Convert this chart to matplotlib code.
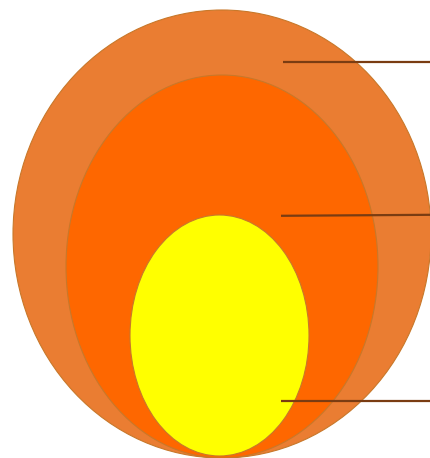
import matplotlib.pyplot as plt
from matplotlib.patches import Ellipse

# Nested layers (outer -> inner), sizes in pixel units of the canvas
layers = ["outer", "middle", "inner"]
centers_x = [222, 222, 219.5]
centers_y = [234, 266.5, 335.5]
widths = [418, 312, 179]
heights = [448, 383, 241]
colors = ["#ea7d32", "#fe6700", "#ffff00"]

# Leader lines: start x, y at left and y at right edge
line_x0 = [283, 281, 281]
line_y0 = [62, 215.8, 401]
line_y1 = [62, 214.8, 401]

fig = plt.figure(figsize=(4.31, 4.58), dpi=100)
ax = fig.add_axes([0, 0, 1, 1])
ax.set_xlim(0, 431)
ax.set_ylim(458, 0)
ax.axis("off")

for cx, cy, w, h, c in zip(centers_x, centers_y, widths, heights, colors):
    ax.add_patch(Ellipse((cx, cy), w, h, facecolor=c, edgecolor="#c8782a", linewidth=0.8))

for x0, y0, y1 in zip(line_x0, line_y0, line_y1):
    ax.plot([x0, 431], [y0, y1], color="#7a3c12", linewidth=1.6, solid_capstyle="butt")

fig.savefig("out.png", dpi=100)
